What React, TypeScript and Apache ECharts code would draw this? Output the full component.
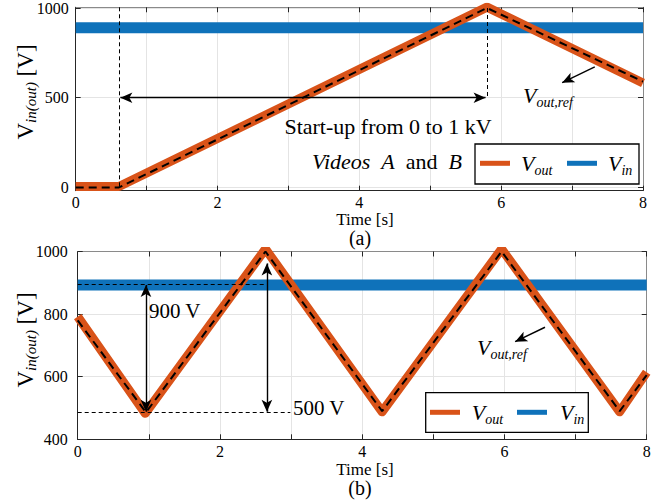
import React, { useEffect, useRef } from "react";
import * as echarts from "echarts";

// ---------- data ----------
// (a) start-up
const topVinT = [0, 8];
const topVinV = [890, 890];
const topVoutT = [0, 0.61, 5.8, 8];
const topVoutV = [5, 5, 1005, 582];
const topRefT = [0, 0.61, 5.8, 8];
const topRefV = [0, 0, 1000, 590];
const topYTicks = [0, 500, 1000];
// (b) triangular reference
const botVinT = [0, 8];
const botVinV = [893, 893];
const botVoutT = [0, 0.95, 2.64, 4.28, 5.96, 7.62, 8];
const botVoutV = [792, 483, 1008, 488, 1008, 488, 614];
const botRefT = [0, 0.96, 2.64, 4.28, 5.96, 7.62, 8];
const botRefV = [780, 486, 1000, 490, 1000, 490, 605];
const xTicksMin = 0;
const xTicksMax = 8;

const ORANGE = "#D95319";
const BLUE = "#0F72BA";
const SERIF = "Liberation Serif";
const TICKF = "Liberation Serif";

const zip = (t: number[], v: number[]) => t.map((x, i) => [x, v[i]]);

function axisX(grid: number, pos: "bottom" | "top", labels: boolean) {
  return {
    gridIndex: grid,
    type: "value",
    min: xTicksMin,
    max: xTicksMax,
    interval: 1,
    position: pos,
    axisLine: { show: true, onZero: false, lineStyle: { color: pos === "bottom" ? "#262626" : "#8a8a8a", width: 1 } },
    axisTick: { show: true, inside: true, length: 5, lineStyle: { color: "#262626" } },
    axisLabel: {
      show: labels,
      formatter: (v: number) => (v % 2 === 0 ? String(v) : ""),
      fontFamily: TICKF,
      fontSize: 16,
      color: "#000",
      margin: 4,
    },
    splitLine: { show: labels, lineStyle: { color: "#e4e4e4", width: 1 } },
  };
}

function axisY(grid: number, pos: "left" | "right", labels: boolean, min: number, max: number, custom: number[] | null, interval?: number) {
  const o: any = {
    gridIndex: grid,
    type: "value",
    min,
    max,
    position: pos,
    axisLine: { show: true, onZero: false, lineStyle: { color: pos === "left" ? "#262626" : "#8a8a8a", width: 1 } },
    axisTick: { show: true, inside: true, length: 5, lineStyle: { color: "#262626" } },
    axisLabel: {
      show: labels,
      formatter: (v: number) => String(v),
      fontFamily: TICKF,
      fontSize: 16,
      color: "#000",
      margin: grid === 0 ? 7 : 10,
    },
    splitLine: { show: labels, lineStyle: { color: "#e4e4e4", width: 1 } },
  };
  if (interval) o.interval = interval;
  if (custom) {
    o.axisTick.customValues = custom;
    o.axisLabel.customValues = custom;
  }
  return o;
}

const arrowSym = { symbol: "arrow", symbolSize: [8, 12] };
const noSym = { symbol: "none" };

function ml(a: number[], b: number[], sa: any, sb: any, style: any) {
  return [
    { coord: a, ...sa, lineStyle: style },
    { coord: b, ...sb },
  ];
}

const dashThin = { type: [4, 3], width: 1, color: "#000" };
const solid = { type: "solid", width: 1.4, color: "#000" };

function richT(v: string, sub: string, size: number, subSize: number, italicV: boolean) {
  return {
    text: `{v|${v}}{s|${sub}}`,
    rich: {
      v: { fontFamily: SERIF, fontSize: size, fontStyle: italicV ? "italic" : "normal", lineHeight: size + 6, fill: "#000", color: "#000" },
      s: { fontFamily: SERIF, fontSize: subSize, fontStyle: "italic", lineHeight: subSize, verticalAlign: "bottom", fill: "#000", color: "#000" },
    },
  };
}

function textEl(x: number, y: number, style: any, align = "left", extra: any = {}) {
  return {
    type: "text",
    x,
    y,
    z: 100,
    ...extra,
    style: {
      fill: "#000",
      align,
      verticalAlign: "middle",
      textAlign: align,
      textVerticalAlign: "middle",
      ...style,
    },
  };
}

export default function App() {
  const ref = useRef<HTMLDivElement>(null);
  useEffect(() => {
    document.body.style.margin = "0";
    const chart = echarts.init(ref.current!, null, { renderer: "svg" });
    const yLabelRich = {
      text: "{v|V}{s|in(out)}{v| [V]}",
      rich: {
        v: { fontFamily: SERIF, fontSize: 23, lineHeight: 26, fill: "#000", color: "#000" },
        s: { fontFamily: SERIF, fontSize: 15, fontStyle: "italic", lineHeight: 13, verticalAlign: "bottom", fill: "#000", color: "#000" },
      },
    };
    const option: any = {
      animation: false,
      grid: [
        { left: 75.7, top: 5.5, width: 567.3, height: 185.2 },
        { left: 77.7, top: 251.5, width: 569, height: 187.8 },
      ],
      xAxis: [axisX(0, "bottom", true), axisX(0, "top", false), axisX(1, "bottom", true), axisX(1, "top", false)],
      yAxis: [
        axisY(0, "left", true, -18, 1004, topYTicks),
        axisY(0, "right", false, -18, 1004, topYTicks),
        axisY(1, "left", true, 400, 1000, null, 200),
        axisY(1, "right", false, 400, 1000, null, 200),
      ],
      series: [
        { type: "line", xAxisIndex: 0, yAxisIndex: 0, data: zip(topVinT, topVinV), symbol: "none", lineStyle: { color: BLUE, width: 11 }, z: 2 },
        { type: "line", xAxisIndex: 0, yAxisIndex: 0, data: zip(topVoutT, topVoutV), symbol: "none", lineStyle: { color: ORANGE, width: 9, join: "round" }, z: 3 },
        {
          type: "line", xAxisIndex: 0, yAxisIndex: 0, data: zip(topRefT, topRefV), symbol: "none",
          lineStyle: { color: "#000", width: 2, type: [8, 5] }, z: 4,
          markLine: {
            silent: true, animation: false, symbol: ["none", "none"], label: { show: false },
            data: [
              ml([0.61, 1004], [0.61, 0], noSym, noSym, dashThin),
              ml([5.8, 1000], [5.8, 494], noSym, noSym, dashThin),
              ml([0.63, 500], [5.78, 500], arrowSym, arrowSym, solid),
              ml([7.32, 672], [6.86, 584], noSym, arrowSym, solid),
            ],
          },
        },
        { type: "line", xAxisIndex: 2, yAxisIndex: 2, data: zip(botVinT, botVinV), symbol: "none", lineStyle: { color: BLUE, width: 11 }, z: 2 },
        { type: "line", xAxisIndex: 2, yAxisIndex: 2, data: zip(botVoutT, botVoutV), symbol: "none", lineStyle: { color: ORANGE, width: 9, join: "round" }, z: 3 },
        {
          type: "line", xAxisIndex: 2, yAxisIndex: 2, data: zip(botRefT, botRefV), symbol: "none",
          lineStyle: { color: "#000", width: 2, type: [8, 5] }, z: 4,
          markLine: {
            silent: true, animation: false, symbol: ["none", "none"], label: { show: false },
            data: [
              ml([0, 895], [2.62, 895], noSym, noSym, dashThin),
              ml([0, 486], [2.99, 486], noSym, noSym, dashThin),
              ml([0.96, 893], [0.96, 488], arrowSym, arrowSym, solid),
              ml([2.66, 962], [2.66, 488], arrowSym, arrowSym, solid),
              ml([6.57, 758], [6.15, 712], noSym, arrowSym, solid),
            ],
          },
        },
      ],
      graphic: [
        // y-axis titles
        textEl(25, 92, yLabelRich, "center", { rotation: Math.PI / 2 }),
        textEl(25, 340, yLabelRich, "center", { rotation: Math.PI / 2 }),
        // x-axis titles and captions
        textEl(365, 219, { text: "Time [s]", font: "normal 17px 'Liberation Serif'" }, "center"),
        textEl(360, 238, { text: "(a)", font: "normal 20px 'Liberation Serif'" }, "center"),
        textEl(365, 469, { text: "Time [s]", font: "normal 17px 'Liberation Serif'" }, "center"),
        textEl(360, 488, { text: "(b)", font: "normal 20px 'Liberation Serif'" }, "center"),
        // annotations (a)
        textEl(388, 126, { text: "Start-up from 0 to 1 kV", font: "normal 22px 'Liberation Serif'" }, "center"),
        textEl(462, 161.5, {
          text: "{i|Videos}  {i|A}  {r|and}  {i|B}",
          rich: {
            i: { fontFamily: SERIF, fontSize: 22, fontStyle: "italic", fill: "#000", color: "#000" },
            r: { fontFamily: SERIF, fontSize: 22, fill: "#000", color: "#000" },
          },
          fontFamily: SERIF, fontSize: 22,
        }, "right"),
        textEl(523, 95, richT("V", "out,ref", 22, 14, true)),
        // legend (a)
        { type: "rect", z: 99, shape: { x: 475, y: 144, width: 164, height: 40 }, style: { fill: "#fff", stroke: "#000", lineWidth: 1.3 } },
        { type: "line", z: 100, shape: { x1: 480, y1: 163.3, x2: 510, y2: 163.3 }, style: { stroke: ORANGE, lineWidth: 5 } },
        { type: "line", z: 100, shape: { x1: 567, y1: 163.3, x2: 597, y2: 163.3 }, style: { stroke: BLUE, lineWidth: 5 } },
        textEl(521, 163, richT("V", "out", 22, 14, true)),
        textEl(608, 163, richT("V", "in", 22, 14, true)),
        // annotations (b)
        textEl(149, 310.7, { text: "900 V", font: "normal 21px 'Liberation Serif'" }),
        textEl(293, 408.3, { text: "500 V", font: "normal 21px 'Liberation Serif'" }),
        textEl(477, 347, richT("V", "out,ref", 22, 14, true)),
        // legend (b)
        { type: "rect", z: 99, shape: { x: 425.7, y: 392.7, width: 162.6, height: 39.6 }, style: { fill: "#fff", stroke: "#000", lineWidth: 1.3 } },
        { type: "line", z: 100, shape: { x1: 430, y1: 412.3, x2: 460, y2: 412.3 }, style: { stroke: ORANGE, lineWidth: 5 } },
        { type: "line", z: 100, shape: { x1: 517, y1: 412.3, x2: 547, y2: 412.3 }, style: { stroke: BLUE, lineWidth: 5 } },
        textEl(471.7, 412, richT("V", "out", 22, 14, true)),
        textEl(560, 412, richT("V", "in", 22, 14, true)),
      ],
    };
    chart.setOption(option);
    return () => chart.dispose();
  }, []);
  return <div ref={ref} style={{ width: 661, height: 501 }} />;
}
